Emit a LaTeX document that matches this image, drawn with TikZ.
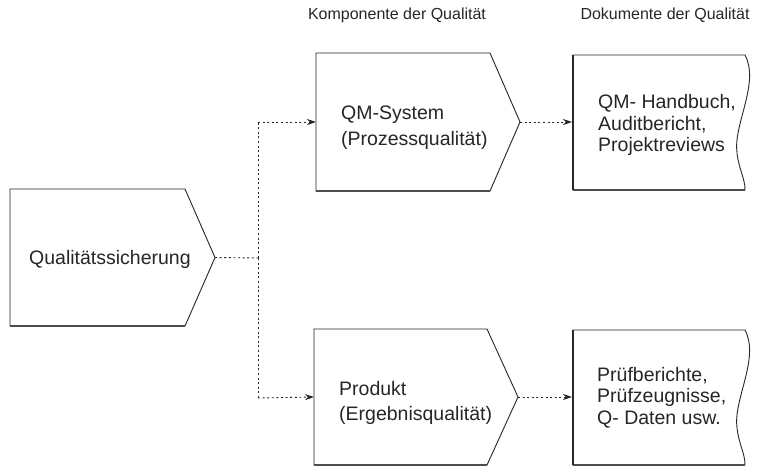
\documentclass[tikz,border=0pt]{standalone}
\usepackage{fontspec}
\setmainfont{Liberation Sans}
\usetikzlibrary{arrows.meta}
\begin{document}
\begin{tikzpicture}[x=1pt,y=-1pt,
  outline/.style={draw=black!85,line width=0.9pt,line join=miter},
  shadowedge/.style={draw=black!70,line width=2.6pt},
  boxtext/.style={font=\fontsize{19.5}{25.5}\selectfont,align=left,anchor=west,inner sep=0pt,text=black!85},
  doctext/.style={font=\fontsize{19.5}{21.5}\selectfont,align=left,anchor=west,inner sep=0pt,text=black!85},
  headtext/.style={font=\fontsize{16}{19}\selectfont,inner sep=0pt,text=black!85},
  flow/.style={draw=black!85,line width=0.9pt,dash pattern=on 2pt off 2.6pt},
  flowarrow/.style={flow,-{Stealth[length=9pt,width=6pt,fill=black!85]}}]

\useasboundingbox (0,0) rectangle (773,469);

% column headings
\node[headtext] (h1) at (397,15) {Komponente der Qualität};
\node[headtext] (h2) at (665,15) {Dokumente der Qualität};

% process-step shapes (pentagon arrows)
\newcommand{\stepshape}[6]{% left, top, corner x, tip x, bottom, name
  \path[outline,fill=white] (#1,#5) -- (#1,#2) -- (#3,#2) -- (#4,{(#2+#5)/2}) -- (#3,#5) -- cycle;
  \draw[shadowedge] (#1,#5) -- (#3,#5);
  \coordinate (#6-in) at (#1,{(#2+#5)/2});
  \coordinate (#6-tip) at (#4,{(#2+#5)/2});
}
% document shapes with wavy right edge
\newcommand{\docshape}[4]{% left, top, bottom, name
  \path[outline,fill=white] (#1,#3) -- (#1,#2) -- (745,#2)
     .. controls (760,{#2+28}) and (733,{#2+70}) .. (737,{#2+98})
     .. controls (739,{#2+115}) and (745,{#3-12}) .. (745,#3) -- cycle;
  \draw[shadowedge] (#1,#3) -- (745,#3);
  \draw[draw=black!85,line width=1.8pt] (#1,#2) -- (#1,#3);
  \coordinate (#4-in) at (#1,{(#2+#3)/2});
}

\stepshape{10}{189}{185}{215}{326}{qs}
\stepshape{316}{53}{490}{520}{191}{qm}
\stepshape{314}{329}{487}{518}{465}{pr}
\docshape{573}{55}{190}{d1}
\docshape{573}{330}{465}{d2}

% texts
\node[boxtext] (tqs) at (29,259) {Qualitätssicherung};
\node[boxtext] (tqm) at (341,127.5) {QM-System\\(Prozessqualität)};
\node[boxtext] (tpr) at (339,403) {Produkt\\(Ergebnisqualität)};
\node[doctext] (td1) at (598,125) {QM- Handbuch,\\Auditbericht,\\Projektreviews};
\node[doctext] (td2) at (597,397.5) {Prüfberichte,\\Prüfzeugnisse,\\Q- Daten usw.};

% connectors
\coordinate (split) at (258,258);
\coordinate (up) at (258,122);
\coordinate (down) at (258,398);
\draw[flow] (qs-tip) -- (split);
\draw[flow] (split) -- (up);
\draw[flow] (split) -- (down);
\draw[flowarrow] (up) -- (qm-in);
\draw[flowarrow] (down) -- (pr-in);
\draw[flowarrow] (qm-tip) -- ([xshift=-1pt]d1-in |- qm-tip);
\draw[flowarrow] (pr-tip) -- ([xshift=-1pt]d2-in |- pr-tip);
\end{tikzpicture}
\end{document}
